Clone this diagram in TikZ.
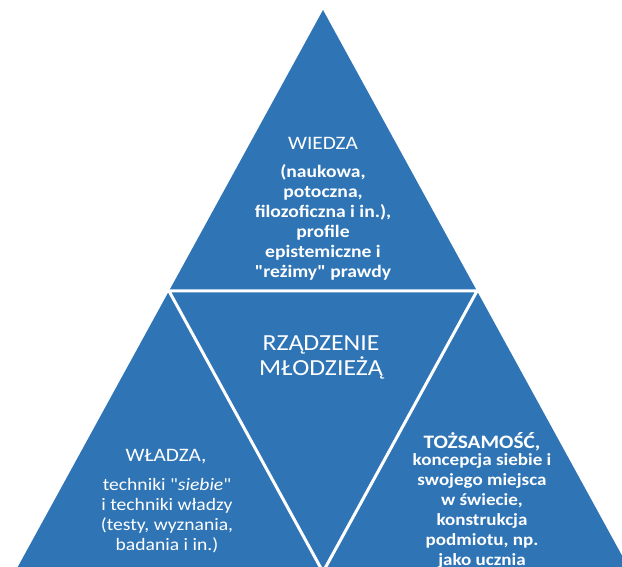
\documentclass[tikz,border=0pt]{standalone}
\usepackage{fontspec}
\setmainfont{Carlito}[FakeStretch=1.12, Ligatures=TeXOff]
\definecolor{triblue}{RGB}{47,117,182}
\tikzset{
  head/.style={text=white, inner sep=0pt, align=center, font=\fontsize{19}{22}\selectfont},
  body/.style={text=white, inner sep=0pt, align=center, font=\fontsize{17.5}{20}\selectfont},
  gap/.style={draw=white, line width=3pt, line join=miter}
}
\begin{document}
\begin{tikzpicture}[x=1pt,y=-1pt]
\useasboundingbox (0,0) rectangle (622,567);
\clip (0,0) rectangle (622,567);
\coordinate (A) at (323,10);
\coordinate (B) at (15,572);
\coordinate (C) at (631,572);
\coordinate (AB) at (169,291);
\coordinate (AC) at (477,291);
\coordinate (BC) at (323,572);
\fill[triblue] (A) -- (B) -- (C) -- cycle;
\draw[gap] (AB) -- (AC) -- (BC) -- cycle;

\node[head] (wiedza) at (323,143) {WIEDZA};
\node[body, font=\bfseries\fontsize{17.5}{20}\selectfont] (wiedzab) at (323,222) {(naukowa,\\ potoczna,\\ filozoficzna i in.),\\ profile\\ epistemiczne i\\ "reżimy" prawdy};

\node[head, font=\fontsize{23}{25}\selectfont] (rzad) at (321,357) {RZĄDZENIE\\ MŁODZIEŻĄ};

\node[head] (wladza) at (166,457) {WŁADZA,};
\node[body] (wladzab) at (167,516) {techniki "\textit{siebie}"\\ i techniki władzy\\ (testy, wyznania,\\ badania i in.)};

\node[head, font=\bfseries\fontsize{19}{22}\selectfont] (tozs) at (482,442) {TOŻSAMOŚĆ,};
\node[body, font=\bfseries\fontsize{17}{20}\selectfont] (tozsb) at (482,511) {koncepcja siebie i\\ swojego miejsca\\ w świecie,\\ konstrukcja\\ podmiotu, np.\\ jako ucznia};
\end{tikzpicture}
\end{document}
